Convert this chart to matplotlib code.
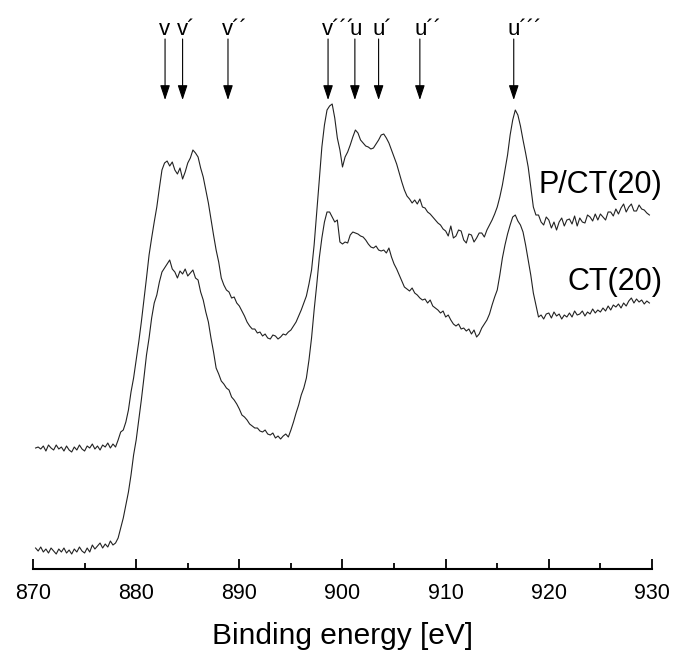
import matplotlib
matplotlib.use("Agg")
import matplotlib.pyplot as plt
import numpy as np

plt.rcParams["font.family"] = ["Liberation Sans", "DejaVu Sans"]

# binding energy grid [eV], 0.25 eV steps
energy = np.arange(870.25, 930.0, 0.25)

# intensity (arb. units), one row per eV
pct20 = [
    152, 153, 151,
    154, 149, 155, 152,
    150, 155, 151, 153,
    149, 154, 150, 148,
    153, 150, 155, 151,
    149, 154, 152, 156,
    151, 154, 150, 155,
    153, 157, 152, 156,
    153, 160, 168, 170,
    178, 190, 208, 222,
    240, 258, 278, 300,
    322, 345, 362, 378,
    393, 412, 430, 437,
    439, 434, 438, 430,
    426, 432, 421, 428,
    437, 442, 450, 447,
    443, 432, 423, 410,
    397, 381, 365, 350,
    338, 322, 315, 310,
    308, 302, 303, 297,
    294, 289, 284, 278,
    274, 271, 271, 267,
    268, 264, 266, 262,
    261, 265, 264, 261,
    263, 266, 265, 268,
    270, 274, 278, 284,
    290, 297, 304, 316,
    330, 355, 387, 420,
    453, 475, 490, 494,
    496, 482, 462, 450,
    433, 443, 448, 455,
    463, 470, 467, 460,
    457, 454, 453, 451,
    452, 456, 460, 465,
    466, 462, 457, 450,
    443, 436, 427, 418,
    410, 404, 401, 397,
    400, 396, 401, 393,
    392, 388, 386, 383,
    380, 377, 375, 371,
    369, 364, 374, 362,
    364, 370, 369, 360,
    357, 366, 365, 358,
    362, 367, 367, 363,
    370, 375, 380, 386,
    393, 403, 415, 430,
    445, 465, 480, 490,
    485, 474, 460, 447,
    433, 413, 393, 385,
    385, 378, 375, 383,
    380, 372, 378, 370,
    378, 382, 374, 380,
    381, 376, 384, 374,
    382, 378, 377, 385,
    383, 379, 386, 380,
    386, 383, 380, 388,
    388, 384, 391, 386,
    392, 396, 388, 393,
    396, 389, 389, 395,
    391, 390, 387, 385,
]
ct20 = [
    52, 49, 53,
    48, 51, 47, 52,
    49, 46, 51, 48,
    52, 47, 50, 46,
    51, 48, 53, 49,
    47, 52, 48, 55,
    51, 54, 57, 52,
    56, 53, 59, 55,
    57, 62, 72, 82,
    95, 108, 125, 145,
    160, 180, 200, 222,
    245, 262, 282, 297,
    305, 318, 328, 332,
    336, 340, 331, 328,
    322, 329, 326, 331,
    324, 327, 330, 322,
    320, 308, 300, 288,
    278, 262, 248, 232,
    226, 219, 216, 212,
    210, 203, 200, 196,
    191, 185, 183, 180,
    176, 174, 172, 172,
    169, 168, 170, 166,
    165, 167, 162, 164,
    161, 164, 166, 163,
    170, 178, 187, 195,
    205, 212, 222, 240,
    262, 290, 315, 342,
    362, 378, 388, 388,
    383, 378, 380, 358,
    356, 358, 357, 365,
    368, 367, 366, 364,
    363, 360, 356, 353,
    352, 354, 350, 349,
    350, 347, 352, 343,
    336, 331, 325, 319,
    313, 311, 309, 312,
    307, 305, 302, 300,
    301, 297, 300, 294,
    292, 290, 287, 289,
    283, 285, 280, 276,
    274, 276, 271, 272,
    269, 271, 266, 270,
    263, 266, 272, 276,
    280, 286, 295, 303,
    310, 325, 342, 355,
    366, 375, 383, 385,
    379, 375, 368, 355,
    340, 325, 307, 295,
    283, 285, 281, 286,
    287, 282, 288, 284,
    286, 281, 285, 283,
    287, 283, 289, 285,
    286, 289, 284, 288,
    286, 291, 287, 290,
    288, 292, 289, 294,
    290, 295, 293, 296,
    292, 297, 294, 299,
    302, 297, 301, 298,
    300, 296, 299, 297,
]

# peak markers: label, position [eV]
peak_labels = ["v", "v´", "v´´", "v´´´", "u", "u´", "u´´", "u´´´"]
peak_positions = [882.8, 884.5, 888.9, 898.6, 901.2, 903.5, 907.5, 916.6]

fig = plt.figure(figsize=(6.75, 6.56), dpi=100)
fig.patch.set_facecolor("white")
ax = fig.add_axes([0.0489, 0.1326, 0.917, 0.8674])

ax.plot(energy, pct20, color="#222222", lw=0.8)
ax.plot(energy, ct20, color="#222222", lw=0.8)

ax.set_xlim(870, 930)
ax.set_ylim(31, 600)

for label, pos in zip(peak_labels, peak_positions):
    ax.annotate(
        "",
        xy=(pos, 500),
        xytext=(pos, 561),
        arrowprops=dict(arrowstyle="-|>,head_length=0.9,head_width=0.3", color="black", lw=0.8,
                        shrinkA=0, shrinkB=0),
    )
    ax.annotate(label, xy=(pos, 565), xytext=(-4.2, 0), textcoords="offset points",
                ha="left", va="baseline", fontsize=16)

ax.text(931.0, 415, "P/CT(20)", ha="right", va="center", fontsize=22)
ax.text(931.0, 318, "CT(20)", ha="right", va="center", fontsize=22)

for spine in ["top", "right", "left"]:
    ax.spines[spine].set_visible(False)
ax.spines["bottom"].set_linewidth(1.5)
ax.set_yticks([])
ax.set_xticks(np.arange(870, 931, 10))
ax.set_xticks(np.arange(875, 930, 10), minor=True)
ax.tick_params(axis="x", which="major", direction="in", length=7, width=1.3, pad=10, labelsize=15.5)
ax.tick_params(axis="x", which="minor", direction="in", length=4.5, width=1.3)
ax.set_xlabel("Binding energy [eV]", fontsize=21.5, labelpad=13)

fig.savefig("out.png", dpi=100)
